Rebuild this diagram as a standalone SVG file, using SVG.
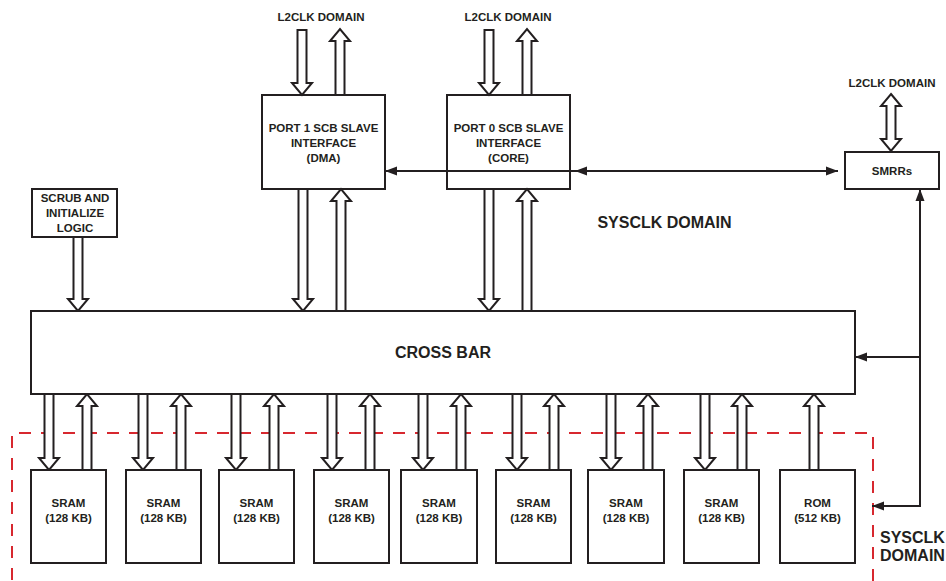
<svg xmlns="http://www.w3.org/2000/svg" width="946" height="581" viewBox="0 0 946 581">
<style>
.box{fill:#fff;stroke:#231f20;stroke-width:2}
.ha{fill:#fff;stroke:#231f20;stroke-width:2;stroke-linejoin:miter}
.ln{fill:none;stroke:#231f20;stroke-width:2}
.dash{fill:none;stroke:#d7282f;stroke-width:2;stroke-dasharray:12 10}
text{font-family:"Liberation Sans",Arial,sans-serif;font-weight:bold;fill:#231f20;text-anchor:middle}
.s{font-size:11.5px}
.l{font-size:16px}
</style>
<defs>
<marker id="ah" markerUnits="userSpaceOnUse" markerWidth="12" markerHeight="10" refX="12" refY="5" orient="auto-start-reverse">
<path d="M0,0.5 L12,5 L0,9.5 z" fill="#231f20"/>
</marker>
<polygon id="dn" points="-4.5,394 -4.5,458 -10,458 0,470 10,458 4.5,458 4.5,394"/>
<polygon id="up" points="-4.5,470 -4.5,406 -10,406 0,394 10,406 4.5,406 4.5,470"/>
</defs>

<path class="dash" d="M873,581 V433 H12 V581"/>

<g id="connectors">
<polygon class="ha" points="297.5,30 297.5,83 292,83 302,95 312,83 306.5,83 306.5,30"/>
<polygon class="ha" points="335.5,95 335.5,41 330,41 340,29 350,41 344.5,41 344.5,95"/>
<polygon class="ha" points="484.5,30 484.5,83 479,83 489,95 499,83 493.5,83 493.5,30"/>
<polygon class="ha" points="522.5,95 522.5,41 517,41 527,29 537,41 531.5,41 531.5,95"/>
<polygon class="ha" points="298.5,189 298.5,299 293,299 303,311 313,299 307.5,299 307.5,189"/>
<polygon class="ha" points="336.5,311 336.5,201 331,201 341,189 351,201 345.5,201 345.5,311"/>
<polygon class="ha" points="484.5,189 484.5,299 479,299 489,311 499,299 493.5,299 493.5,189"/>
<polygon class="ha" points="522.5,311 522.5,201 517,201 527,189 537,201 531.5,201 531.5,311"/>
<polygon class="ha" points="73.5,237 73.5,299 68,299 78,311 88,299 82.5,299 82.5,237"/>
<polygon class="ha" points="891,94 901,106 895.5,106 895.5,139 901,139 891,151 881,139 886.5,139 886.5,106 881,106"/>
<use href="#dn" x="49" class="ha"/><use href="#up" x="87" class="ha"/>
<use href="#dn" x="143" class="ha"/><use href="#up" x="181" class="ha"/>
<use href="#dn" x="236" class="ha"/><use href="#up" x="274" class="ha"/>
<use href="#dn" x="332" class="ha"/><use href="#up" x="370" class="ha"/>
<use href="#dn" x="423" class="ha"/><use href="#up" x="461" class="ha"/>
<use href="#dn" x="517" class="ha"/><use href="#up" x="554" class="ha"/>
<use href="#dn" x="611" class="ha"/><use href="#up" x="648" class="ha"/>
<use href="#dn" x="705" class="ha"/><use href="#up" x="742" class="ha"/>
<use href="#up" x="814" class="ha"/>
<path class="ln" d="M575,171 H385" marker-end="url(#ah)"/>
<path class="ln" d="M575,171 H838" marker-start="url(#ah)" marker-end="url(#ah)"/>
<path class="ln" d="M920,189 V506 H872" marker-start="url(#ah)" marker-end="url(#ah)"/>
<path class="ln" d="M920,357 H855" marker-end="url(#ah)"/>
</g>

<g id="port1">
<rect class="box" x="262" y="95" width="123" height="94" fill-opacity="0"/>
<text class="s" x="323.5" y="132">PORT 1 SCB SLAVE</text>
<text class="s" x="323.5" y="147">INTERFACE</text>
<text class="s" x="323.5" y="162">(DMA)</text>
</g>
<g id="port0">
<rect class="box" x="447" y="95" width="123" height="94" style="fill:none"/>
<text class="s" x="508.5" y="132">PORT 0 SCB SLAVE</text>
<text class="s" x="508.5" y="147">INTERFACE</text>
<text class="s" x="508.5" y="162">(CORE)</text>
</g>
<g id="smrrs">
<rect class="box" x="845" y="152" width="94" height="37"/>
<text class="s" x="892" y="175">SMRRs</text>
</g>
<g id="scrub">
<rect class="box" x="32" y="189" width="85" height="48"/>
<text class="s" x="75" y="202">SCRUB AND</text>
<text class="s" x="75" y="217">INITIALIZE</text>
<text class="s" x="75" y="232">LOGIC</text>
</g>
<g id="crossbar">
<rect class="box" x="31" y="311" width="824" height="83"/>
<text class="l" x="443" y="358">CROSS BAR</text>
</g>

<g id="sram1"><rect class="box" x="31" y="470" width="75" height="93"/><text class="s" x="68.5" y="507">SRAM</text><text class="s" x="68.5" y="522">(128 KB)</text></g>
<g id="sram2"><rect class="box" x="126" y="470" width="75" height="93"/><text class="s" x="163.5" y="507">SRAM</text><text class="s" x="163.5" y="522">(128 KB)</text></g>
<g id="sram3"><rect class="box" x="219" y="470" width="75" height="93"/><text class="s" x="256.5" y="507">SRAM</text><text class="s" x="256.5" y="522">(128 KB)</text></g>
<g id="sram4"><rect class="box" x="314" y="470" width="75" height="93"/><text class="s" x="351.5" y="507">SRAM</text><text class="s" x="351.5" y="522">(128 KB)</text></g>
<g id="sram5"><rect class="box" x="401" y="470" width="76" height="93"/><text class="s" x="439" y="507">SRAM</text><text class="s" x="439" y="522">(128 KB)</text></g>
<g id="sram6"><rect class="box" x="496" y="470" width="75" height="93"/><text class="s" x="533.5" y="507">SRAM</text><text class="s" x="533.5" y="522">(128 KB)</text></g>
<g id="sram7"><rect class="box" x="588" y="470" width="76" height="93"/><text class="s" x="626" y="507">SRAM</text><text class="s" x="626" y="522">(128 KB)</text></g>
<g id="sram8"><rect class="box" x="684" y="470" width="75" height="93"/><text class="s" x="721.5" y="507">SRAM</text><text class="s" x="721.5" y="522">(128 KB)</text></g>
<g id="rom"><rect class="box" x="780" y="470" width="75" height="93"/><text class="s" x="817.5" y="507">ROM</text><text class="s" x="817.5" y="522">(512 KB)</text></g>

<g id="labels">
<text class="s" x="321" y="21">L2CLK DOMAIN</text>
<text class="s" x="508" y="21">L2CLK DOMAIN</text>
<text class="s" x="892" y="87">L2CLK DOMAIN</text>
<text class="l" x="664.5" y="228">SYSCLK DOMAIN</text>
<text class="l" x="880" y="543" style="text-anchor:start">SYSCLK</text>
<text class="l" x="880" y="561" style="text-anchor:start">DOMAIN</text>
</g>
</svg>
